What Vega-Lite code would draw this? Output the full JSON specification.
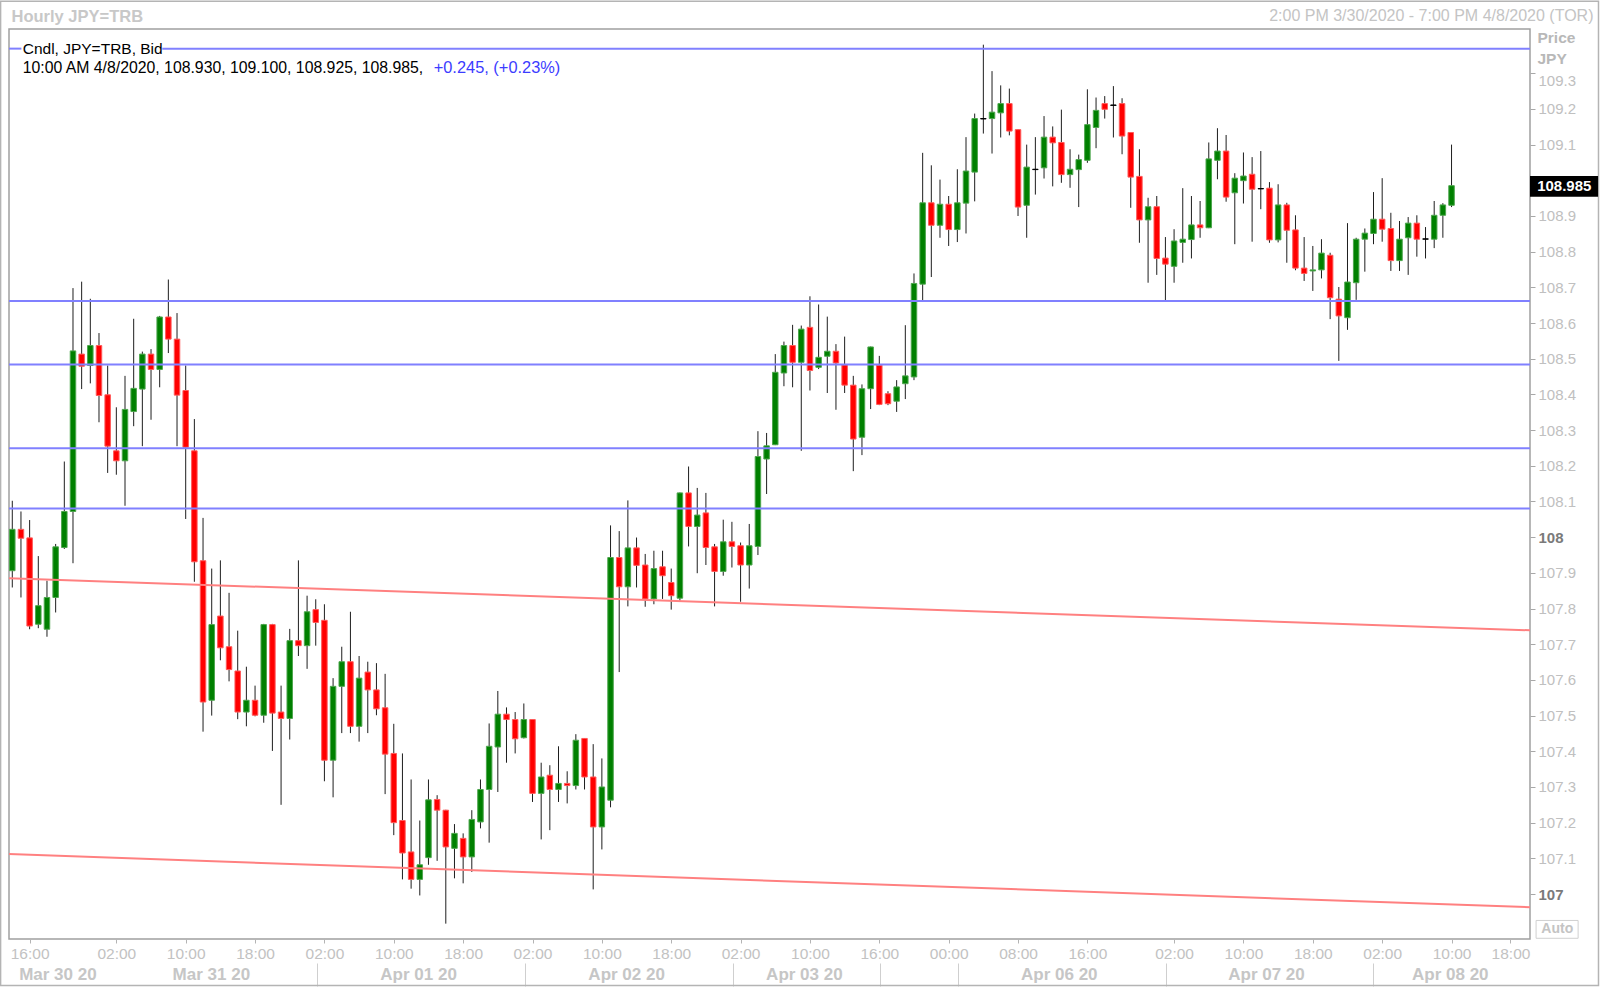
{
"$schema": "https://vega.github.io/schema/vega-lite/v6.json",
"width": 1521, "height": 910,
"autosize": {"type": "none"},
"padding": {"left": 9, "top": 29, "right": 70, "bottom": 48},
"background": "#ffffff",
"config": {"font": "Liberation Sans", "view": {"stroke": "#a0a0a0", "strokeWidth": 1.5}, "axis": {"grid": false}},
"datasets": {"candles": [
{"i":0,"o":107.906,"h":108.102,"l":107.859,"c":108.022},
{"i":1,"o":108.022,"h":108.072,"l":107.831,"c":107.997},
{"i":2,"o":107.998,"h":108.048,"l":107.742,"c":107.751},
{"i":3,"o":107.756,"h":107.947,"l":107.745,"c":107.808},
{"i":4,"o":107.742,"h":107.878,"l":107.721,"c":107.831},
{"i":5,"o":107.831,"h":107.981,"l":107.789,"c":107.973},
{"i":6,"o":107.971,"h":108.212,"l":107.967,"c":108.072},
{"i":7,"o":108.072,"h":108.698,"l":107.927,"c":108.522},
{"i":8,"o":108.513,"h":108.716,"l":108.415,"c":108.479},
{"i":9,"o":108.481,"h":108.668,"l":108.431,"c":108.537},
{"i":10,"o":108.537,"h":108.572,"l":108.322,"c":108.397},
{"i":11,"o":108.399,"h":108.481,"l":108.180,"c":108.255},
{"i":12,"o":108.242,"h":108.364,"l":108.175,"c":108.214},
{"i":13,"o":108.214,"h":108.452,"l":108.088,"c":108.358},
{"i":14,"o":108.352,"h":108.612,"l":108.311,"c":108.417},
{"i":15,"o":108.415,"h":108.520,"l":108.255,"c":108.513},
{"i":16,"o":108.513,"h":108.527,"l":108.329,"c":108.470},
{"i":17,"o":108.470,"h":108.620,"l":108.420,"c":108.617},
{"i":18,"o":108.617,"h":108.722,"l":108.516,"c":108.555},
{"i":19,"o":108.555,"h":108.628,"l":108.255,"c":108.398},
{"i":20,"o":108.411,"h":108.481,"l":108.051,"c":108.252},
{"i":21,"o":108.242,"h":108.331,"l":107.875,"c":107.931},
{"i":22,"o":107.934,"h":108.054,"l":107.455,"c":107.538},
{"i":23,"o":107.543,"h":107.912,"l":107.500,"c":107.755},
{"i":24,"o":107.779,"h":107.935,"l":107.655,"c":107.690},
{"i":25,"o":107.693,"h":107.844,"l":107.596,"c":107.629},
{"i":26,"o":107.625,"h":107.738,"l":107.490,"c":107.510},
{"i":27,"o":107.510,"h":107.637,"l":107.470,"c":107.543},
{"i":28,"o":107.543,"h":107.584,"l":107.498,"c":107.501},
{"i":29,"o":107.501,"h":107.757,"l":107.480,"c":107.755},
{"i":30,"o":107.755,"h":107.757,"l":107.401,"c":107.507},
{"i":31,"o":107.510,"h":107.584,"l":107.250,"c":107.492},
{"i":32,"o":107.492,"h":107.743,"l":107.433,"c":107.710},
{"i":33,"o":107.710,"h":107.935,"l":107.667,"c":107.696},
{"i":34,"o":107.696,"h":107.836,"l":107.631,"c":107.791},
{"i":35,"o":107.797,"h":107.826,"l":107.696,"c":107.761},
{"i":36,"o":107.767,"h":107.812,"l":107.316,"c":107.375},
{"i":37,"o":107.375,"h":107.605,"l":107.271,"c":107.582},
{"i":38,"o":107.582,"h":107.693,"l":107.451,"c":107.651},
{"i":39,"o":107.651,"h":107.791,"l":107.451,"c":107.470},
{"i":40,"o":107.470,"h":107.667,"l":107.427,"c":107.605},
{"i":41,"o":107.622,"h":107.651,"l":107.451,"c":107.572},
{"i":42,"o":107.572,"h":107.647,"l":107.501,"c":107.519},
{"i":43,"o":107.522,"h":107.617,"l":107.280,"c":107.392},
{"i":44,"o":107.394,"h":107.477,"l":107.165,"c":107.200},
{"i":45,"o":107.206,"h":107.394,"l":107.041,"c":107.115},
{"i":46,"o":107.118,"h":107.321,"l":107.015,"c":107.041},
{"i":47,"o":107.041,"h":107.206,"l":106.996,"c":107.082},
{"i":48,"o":107.102,"h":107.321,"l":107.082,"c":107.264},
{"i":49,"o":107.265,"h":107.277,"l":107.093,"c":107.235},
{"i":50,"o":107.235,"h":107.236,"l":106.917,"c":107.132},
{"i":51,"o":107.128,"h":107.196,"l":107.044,"c":107.170},
{"i":52,"o":107.156,"h":107.170,"l":107.030,"c":107.104},
{"i":53,"o":107.104,"h":107.235,"l":107.062,"c":107.209},
{"i":54,"o":107.202,"h":107.321,"l":107.184,"c":107.293},
{"i":55,"o":107.293,"h":107.478,"l":107.144,"c":107.414},
{"i":56,"o":107.412,"h":107.569,"l":107.286,"c":107.504},
{"i":57,"o":107.504,"h":107.523,"l":107.368,"c":107.489},
{"i":58,"o":107.489,"h":107.510,"l":107.394,"c":107.435},
{"i":59,"o":107.438,"h":107.534,"l":107.436,"c":107.489},
{"i":60,"o":107.489,"h":107.490,"l":107.258,"c":107.282},
{"i":61,"o":107.282,"h":107.368,"l":107.153,"c":107.328},
{"i":62,"o":107.333,"h":107.361,"l":107.179,"c":107.293},
{"i":63,"o":107.293,"h":107.414,"l":107.258,"c":107.310},
{"i":64,"o":107.310,"h":107.344,"l":107.254,"c":107.304},
{"i":65,"o":107.304,"h":107.448,"l":107.293,"c":107.431},
{"i":66,"o":107.436,"h":107.437,"l":107.293,"c":107.328},
{"i":67,"o":107.328,"h":107.420,"l":107.013,"c":107.188},
{"i":68,"o":107.188,"h":107.380,"l":107.125,"c":107.300},
{"i":69,"o":107.263,"h":108.033,"l":107.243,"c":107.943},
{"i":70,"o":107.943,"h":108.017,"l":107.622,"c":107.861},
{"i":71,"o":107.861,"h":108.103,"l":107.806,"c":107.970},
{"i":72,"o":107.970,"h":107.999,"l":107.859,"c":107.921},
{"i":73,"o":107.922,"h":107.953,"l":107.805,"c":107.827},
{"i":74,"o":107.827,"h":107.962,"l":107.812,"c":107.912},
{"i":75,"o":107.917,"h":107.962,"l":107.827,"c":107.892},
{"i":76,"o":107.873,"h":107.912,"l":107.797,"c":107.836},
{"i":77,"o":107.829,"h":108.125,"l":107.822,"c":108.124},
{"i":78,"o":108.124,"h":108.198,"l":107.974,"c":108.030},
{"i":79,"o":108.030,"h":108.138,"l":107.899,"c":108.062},
{"i":80,"o":108.068,"h":108.124,"l":107.922,"c":107.971},
{"i":81,"o":107.973,"h":107.981,"l":107.806,"c":107.904},
{"i":82,"o":107.904,"h":108.049,"l":107.892,"c":107.987},
{"i":83,"o":107.987,"h":108.043,"l":107.915,"c":107.974},
{"i":84,"o":107.976,"h":107.985,"l":107.819,"c":107.922},
{"i":85,"o":107.922,"h":108.037,"l":107.856,"c":107.976},
{"i":86,"o":107.974,"h":108.297,"l":107.950,"c":108.226},
{"i":87,"o":108.219,"h":108.292,"l":108.121,"c":108.256},
{"i":88,"o":108.259,"h":108.513,"l":108.258,"c":108.462},
{"i":89,"o":108.460,"h":108.548,"l":108.423,"c":108.537},
{"i":90,"o":108.537,"h":108.595,"l":108.420,"c":108.490},
{"i":91,"o":108.490,"h":108.593,"l":108.242,"c":108.583},
{"i":92,"o":108.588,"h":108.675,"l":108.411,"c":108.467},
{"i":93,"o":108.476,"h":108.652,"l":108.471,"c":108.504},
{"i":94,"o":108.507,"h":108.618,"l":108.404,"c":108.521},
{"i":95,"o":108.521,"h":108.541,"l":108.357,"c":108.488},
{"i":96,"o":108.483,"h":108.562,"l":108.404,"c":108.426},
{"i":97,"o":108.426,"h":108.452,"l":108.185,"c":108.275},
{"i":98,"o":108.280,"h":108.428,"l":108.230,"c":108.416},
{"i":99,"o":108.416,"h":108.534,"l":108.359,"c":108.533},
{"i":100,"o":108.482,"h":108.508,"l":108.370,"c":108.372},
{"i":101,"o":108.402,"h":108.409,"l":108.370,"c":108.374},
{"i":102,"o":108.381,"h":108.440,"l":108.351,"c":108.421},
{"i":103,"o":108.430,"h":108.594,"l":108.387,"c":108.452},
{"i":104,"o":108.449,"h":108.739,"l":108.440,"c":108.711},
{"i":105,"o":108.709,"h":109.077,"l":108.664,"c":108.937},
{"i":106,"o":108.937,"h":109.042,"l":108.729,"c":108.874},
{"i":107,"o":108.874,"h":109.002,"l":108.839,"c":108.933},
{"i":108,"o":108.933,"h":108.956,"l":108.816,"c":108.862},
{"i":109,"o":108.862,"h":109.031,"l":108.827,"c":108.937},
{"i":110,"o":108.936,"h":109.121,"l":108.851,"c":109.026},
{"i":111,"o":109.023,"h":109.187,"l":108.941,"c":109.173},
{"i":112,"o":109.173,"h":109.380,"l":109.131,"c":109.172},
{"i":113,"o":109.173,"h":109.306,"l":109.075,"c":109.191},
{"i":114,"o":109.189,"h":109.266,"l":109.120,"c":109.215},
{"i":115,"o":109.215,"h":109.257,"l":109.126,"c":109.138},
{"i":116,"o":109.142,"h":109.143,"l":108.900,"c":108.925},
{"i":117,"o":108.930,"h":109.100,"l":108.839,"c":109.037},
{"i":118,"o":109.030,"h":109.121,"l":108.960,"c":109.031},
{"i":119,"o":109.035,"h":109.180,"l":109.005,"c":109.121},
{"i":120,"o":109.121,"h":109.151,"l":108.983,"c":109.105},
{"i":121,"o":109.106,"h":109.198,"l":108.993,"c":109.016},
{"i":122,"o":109.016,"h":109.087,"l":108.979,"c":109.031},
{"i":123,"o":109.030,"h":109.072,"l":108.925,"c":109.058},
{"i":124,"o":109.056,"h":109.255,"l":109.049,"c":109.156},
{"i":125,"o":109.148,"h":109.232,"l":109.090,"c":109.196},
{"i":126,"o":109.215,"h":109.236,"l":109.173,"c":109.199},
{"i":127,"o":109.211,"h":109.264,"l":109.120,"c":109.210},
{"i":128,"o":109.215,"h":109.230,"l":109.073,"c":109.124},
{"i":129,"o":109.134,"h":109.135,"l":108.923,"c":109.009},
{"i":130,"o":109.011,"h":109.087,"l":108.825,"c":108.889},
{"i":131,"o":108.889,"h":108.951,"l":108.713,"c":108.926},
{"i":132,"o":108.926,"h":108.956,"l":108.735,"c":108.781},
{"i":133,"o":108.782,"h":108.841,"l":108.664,"c":108.765},
{"i":134,"o":108.759,"h":108.863,"l":108.713,"c":108.830},
{"i":135,"o":108.826,"h":108.978,"l":108.769,"c":108.835},
{"i":136,"o":108.834,"h":108.956,"l":108.781,"c":108.875},
{"i":137,"o":108.875,"h":108.942,"l":108.839,"c":108.867},
{"i":138,"o":108.867,"h":109.106,"l":108.866,"c":109.060},
{"i":139,"o":109.056,"h":109.146,"l":109.003,"c":109.082},
{"i":140,"o":109.082,"h":109.127,"l":108.940,"c":108.953},
{"i":141,"o":108.965,"h":109.020,"l":108.821,"c":109.006},
{"i":142,"o":108.999,"h":109.078,"l":108.935,"c":109.012},
{"i":143,"o":109.017,"h":109.065,"l":108.828,"c":108.975},
{"i":144,"o":108.977,"h":109.082,"l":108.919,"c":108.976},
{"i":145,"o":108.978,"h":108.995,"l":108.825,"c":108.833},
{"i":146,"o":108.833,"h":108.989,"l":108.826,"c":108.931},
{"i":147,"o":108.931,"h":108.937,"l":108.769,"c":108.860},
{"i":148,"o":108.861,"h":108.902,"l":108.748,"c":108.754},
{"i":149,"o":108.754,"h":108.841,"l":108.718,"c":108.739},
{"i":150,"o":108.746,"h":108.816,"l":108.690,"c":108.749},
{"i":151,"o":108.749,"h":108.835,"l":108.725,"c":108.796},
{"i":152,"o":108.790,"h":108.797,"l":108.611,"c":108.671},
{"i":153,"o":108.667,"h":108.701,"l":108.494,"c":108.620},
{"i":154,"o":108.615,"h":108.880,"l":108.581,"c":108.715},
{"i":155,"o":108.713,"h":108.839,"l":108.665,"c":108.835},
{"i":156,"o":108.835,"h":108.865,"l":108.744,"c":108.852},
{"i":157,"o":108.851,"h":108.967,"l":108.821,"c":108.891},
{"i":158,"o":108.891,"h":109.006,"l":108.828,"c":108.863},
{"i":159,"o":108.865,"h":108.909,"l":108.746,"c":108.775},
{"i":160,"o":108.775,"h":108.886,"l":108.746,"c":108.835},
{"i":161,"o":108.839,"h":108.897,"l":108.735,"c":108.880},
{"i":162,"o":108.880,"h":108.902,"l":108.786,"c":108.835},
{"i":163,"o":108.835,"h":108.869,"l":108.781,"c":108.836},
{"i":164,"o":108.835,"h":108.942,"l":108.810,"c":108.902},
{"i":165,"o":108.902,"h":108.936,"l":108.839,"c":108.931},
{"i":166,"o":108.930,"h":109.100,"l":108.925,"c":108.985}
]},
"data": {"name": "candles"},
"resolve": {"axis": {"x": "independent"}},
"layer": [
{"data": {"values": [{"t": "frame"}]},
 "mark": {"type": "rect", "filled": false, "stroke": "#b4b4b4", "strokeWidth": 1.5},
 "encoding": {
  "x": {"datum": -1.35, "type": "quantitative", "axis": null},
  "x2": {"datum": 182.95},
  "y": {"datum": 109.502, "type": "quantitative"},
  "y2": {"datum": 106.744}}},
{"mark": {"type": "rule", "color": "#1e1e1e", "strokeWidth": 1},
 "encoding": {
  "x": {"field": "i", "type": "quantitative", "scale": {"domain": [-0.38, 175.05], "nice": false, "zero": false, "padding": 0},
   "axis": {"orient": "bottom", "values": [2,12,20,28,36,44,52,60,68,76,84,92,100,108,116,124,134,142,150,158,166,172.8],
    "labelExpr": "datum.value > 172 ? '18:00' : format((datum.value < 99 ? datum.value + 14 : datum.value + 12) % 24, '02d') + ':00'",
    "labelFont": "Liberation Sans", "labelFontSize": 15.5, "labelColor": "#c2c2c2", "tickSize": 4, "tickColor": "#b4b4b4",
    "labelPadding": 3, "domain": false, "grid": false, "title": null, "labelOverlap": false, "labelFlush": false}},
  "y": {"field": "l", "type": "quantitative", "scale": {"domain": [106.874, 109.424], "nice": false, "zero": false, "padding": 0},
   "axis": {"orient": "right", "values": [107,107.1,107.2,107.3,107.4,107.5,107.6,107.7,107.8,107.9,108,108.1,108.2,108.3,108.4,108.5,108.6,108.7,108.8,108.9,109.1,109.2,109.3],
    "labelExpr": "abs(datum.value - round(datum.value)) < 0.001 ? format(datum.value, 'd') : format(datum.value, '.1f')",
    "labelAlign": "left", "labelFont": "Liberation Sans", "labelFontSize": 15,
    "labelBaseline": {"condition": {"test": "datum.value > 109.25", "value": "top"}, "value": "middle"},
    "labelColor": {"condition": {"test": "abs(datum.value - round(datum.value)) < 0.001", "value": "#7a7a7a"}, "value": "#c0c0c0"},
    "labelFontWeight": {"condition": {"test": "abs(datum.value - round(datum.value)) < 0.001", "value": "bold"}, "value": "normal"},
    "labelPadding": 3, "tickSize": 5, "tickColor": "#a8a8a8", "domain": false, "grid": false,
    "labelOverlap": false, "labelFlush": false,
    "title": ["Price", "JPY"], "titleAngle": 0, "titleAlign": "left", "titleBaseline": "alphabetic",
    "titleX": 7, "titleY": 13.5, "titleFont": "Liberation Sans", "titleFontSize": 15.5, "titleFontWeight": "bold",
    "titleColor": "#b8b8b8", "titleLineHeight": 21}},
  "y2": {"field": "h"}
 }},
{"mark": {"type": "bar", "size": 5.5, "strokeWidth": 1},
 "encoding": {
  "x": {"field": "i", "type": "quantitative",
   "axis": {"orient": "bottom", "values": [5.2, 22.9, 46.8, 70.8, 91.3, 120.7, 144.6, 165.8],
    "labelExpr": "datum.value < 10 ? 'Mar 30 20' : datum.value < 30 ? 'Mar 31 20' : datum.value < 55 ? 'Apr 01 20' : datum.value < 80 ? 'Apr 02 20' : datum.value < 100 ? 'Apr 03 20' : datum.value < 130 ? 'Apr 06 20' : datum.value < 155 ? 'Apr 07 20' : 'Apr 08 20'",
    "labelFont": "Liberation Sans", "labelFontSize": 17, "labelFontWeight": "bold", "labelColor": "#c6c6c6",
    "ticks": false, "domain": false, "grid": false, "title": null, "labelPadding": 27, "labelOverlap": false, "labelFlush": false}},
  "y": {"field": "o", "type": "quantitative"},
  "y2": {"field": "c"},
  "color": {"condition": [{"test": "abs(datum.c - datum.o) < 0.003", "value": "#000000"}, {"test": "datum.c >= datum.o", "value": "#008000"}], "value": "#ff0000"},
  "stroke": {"condition": [{"test": "abs(datum.c - datum.o) < 0.003", "value": "#000000"}, {"test": "datum.c >= datum.o", "value": "#4da64d"}], "value": "#ff5a5a"}
 }},
{"data": {"values": [{"p": 108.662}, {"p": 108.484}, {"p": 108.249}, {"p": 108.080}]},
 "mark": {"type": "rule", "color": "#8080ff", "strokeWidth": 2},
 "encoding": {"y": {"field": "p", "type": "quantitative"}}},
{"data": {"values": [{"p": 109.369}]},
 "mark": {"type": "rule", "color": "#8080ff", "strokeWidth": 2},
 "encoding": {
  "x": {"datum": -0.38, "type": "quantitative",
   "axis": {"orient": "top", "labels": false, "ticks": false, "domain": false, "grid": false,
    "title": "Hourly JPY=TRB", "titleX": 2, "titleY": -8, "titleAlign": "left", "titleBaseline": "alphabetic",
    "titleFont": "Liberation Sans", "titleFontSize": 16.5, "titleFontWeight": "bold", "titleColor": "#c8c8c8"}},
  "x2": {"datum": 1.05},
  "y": {"field": "p", "type": "quantitative"}}},
{"data": {"values": [{"p": 109.369}]},
 "mark": {"type": "rule", "color": "#8080ff", "strokeWidth": 2},
 "encoding": {
  "x": {"datum": 17.3, "type": "quantitative", "axis": null},
  "x2": {"datum": 175.05},
  "y": {"field": "p", "type": "quantitative"}}},
{"data": {"values": [{"x0": -0.38, "p0": 107.885, "x1": 175.05, "p1": 107.739}, {"x0": -0.38, "p0": 107.112, "x1": 175.05, "p1": 106.963}]},
 "mark": {"type": "rule", "color": "#ff8080", "strokeWidth": 2},
 "encoding": {
  "x": {"field": "x0", "type": "quantitative",
   "axis": {"orient": "bottom", "values": [35.2, 59.15, 83.15, 100.1, 109.1, 133.05, 156.95], "labels": false,
    "ticks": true, "tickSize": 23, "tickColor": "#cfcfcf", "tickWidth": 1, "offset": 24, "domain": false, "grid": false, "title": null}},
  "x2": {"field": "x1"},
  "y": {"field": "p0", "type": "quantitative"},
  "y2": {"field": "p1"}}},
{"data": {"values": [{"t": "Cndl, JPY=TRB, Bid"}]},
 "mark": {"type": "text", "align": "left", "baseline": "middle", "font": "Liberation Sans", "fontSize": 15.5, "color": "#000000"},
 "encoding": {
  "x": {"datum": 1.2, "type": "quantitative",
   "axis": {"orient": "top", "labels": false, "ticks": false, "domain": false, "grid": false,
    "title": "2:00 PM 3/30/2020 - 7:00 PM 4/8/2020 (TOR)", "titleX": 1584, "titleY": -9, "titleAlign": "right", "titleBaseline": "alphabetic",
    "titleFont": "Liberation Sans", "titleFontSize": 16, "titleFontWeight": "normal", "titleColor": "#c4c4c4"}},
  "y": {"datum": 109.369, "type": "quantitative"},
  "text": {"field": "t"}}},
{"data": {"values": [{"t": "10:00 AM 4/8/2020, 108.930, 109.100, 108.925, 108.985,"}]},
 "mark": {"type": "text", "align": "left", "baseline": "middle", "font": "Liberation Sans", "fontSize": 15.8, "color": "#000000"},
 "encoding": {
  "x": {"datum": 1.2, "type": "quantitative", "axis": null},
  "y": {"datum": 109.315, "type": "quantitative"},
  "text": {"field": "t"}}},
{"data": {"values": [{"t": "+0.245, (+0.23%)"}]},
 "mark": {"type": "text", "align": "left", "baseline": "middle", "font": "Liberation Sans", "fontSize": 16.4, "color": "#3c3cff"},
 "encoding": {
  "x": {"datum": 48.6, "type": "quantitative", "axis": null},
  "y": {"datum": 109.315, "type": "quantitative"},
  "text": {"field": "t"}}},
{"data": {"values": [{"t": "box"}]},
 "mark": {"type": "rect", "color": "#000000"},
 "encoding": {
  "x": {"datum": 175.05, "type": "quantitative", "axis": null},
  "x2": {"datum": 182.9},
  "y": {"datum": 109.012, "type": "quantitative"},
  "y2": {"datum": 108.954}}},
{"transform": [{"filter": "datum.i == 166"}],
 "mark": {"type": "text", "align": "center", "baseline": "middle", "font": "Liberation Sans", "fontSize": 15, "fontWeight": "bold", "color": "#ffffff"},
 "encoding": {
  "x": {"datum": 179.0, "type": "quantitative", "axis": null},
  "y": {"field": "c", "type": "quantitative"},
  "text": {"field": "c", "format": ".3f"}}},
{"data": {"values": [{"t": "Auto"}]},
 "mark": {"type": "rect", "fill": "#ffffff", "stroke": "#d0d0d0", "strokeWidth": 1},
 "encoding": {
  "x": {"datum": 175.75, "type": "quantitative", "axis": null},
  "x2": {"datum": 180.6},
  "y": {"datum": 106.926, "type": "quantitative"},
  "y2": {"datum": 106.876}}},
{"data": {"values": [{"t": "Auto"}]},
 "mark": {"type": "text", "align": "center", "baseline": "middle", "font": "Liberation Sans", "fontSize": 14, "fontWeight": "bold", "color": "#c4c4c4"},
 "encoding": {
  "x": {"datum": 178.2, "type": "quantitative", "axis": null},
  "y": {"datum": 106.901, "type": "quantitative"},
  "text": {"field": "t"}}}
]
}
